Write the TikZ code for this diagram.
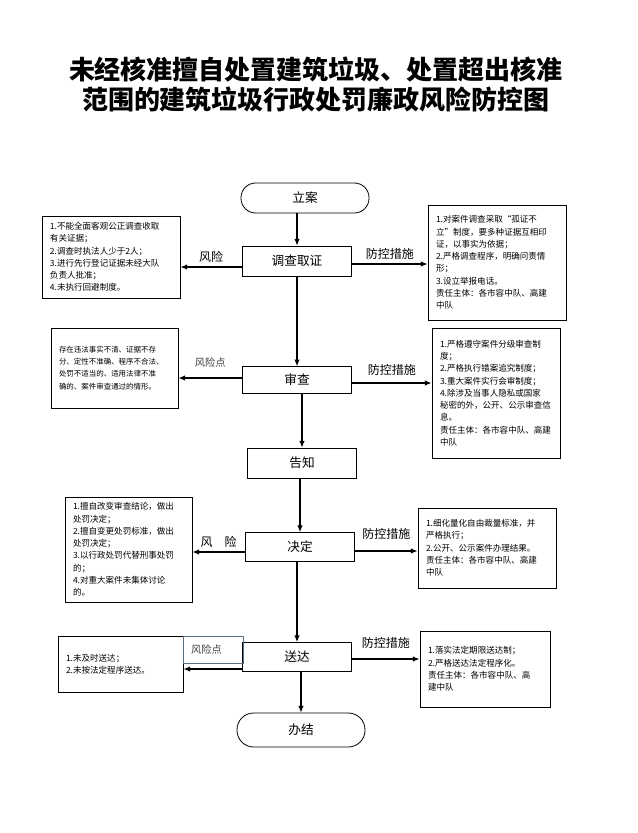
\documentclass[tikz,border=0pt]{standalone}
\usepackage{fontspec}
\setmainfont{Noto Sans CJK SC}
\usetikzlibrary{arrows.meta}
\definecolor{boxgray}{HTML}{5B7087}
\tikzset{
  >={Latex[length=5pt,width=4pt]},
  flowline/.style={->, line width=0.8pt},
  procbox/.style={draw, line width=0.6pt, minimum width=82pt, minimum height=22.5pt, font=\fontsize{9.5}{11}\selectfont},
  endbox/.style={procbox, rounded corners=11pt, minimum width=96pt},
  notebox/.style={draw, line width=0.6pt, align=left, inner xsep=6pt, inner ysep=1pt, font=\fontsize{6.4}{9.2}\selectfont},
  risklabel/.style={font=\fontsize{9}{10}\selectfont},
  pointlabel/.style={font=\fontsize{7.7}{9}\selectfont, text=black!75},
}
\begin{document}
\begin{tikzpicture}[x=0.75pt, y=-0.75pt]
                \useasboundingbox (0,0) rectangle (637,833);
                \node[align=center, font=\fontsize{19.5}{22.5}\selectfont\bfseries] (title) at (316,85) {未经核准擅自处置建筑垃圾、处置超出核准\\范围的建筑垃圾行政处罚廉政风险防控图};

                % main steps
                \node[endbox] (la) at (305,198) {立案};
                \node[procbox] (dczz) at (297,261) {调查取证};
                \node[procbox, minimum height=20pt] (sc) at (297,380) {审查};
                \node[procbox] (gz) at (302,463) {告知};
                \node[procbox, minimum height=21.75pt] (jd) at (300,547) {决定};
                \node[procbox, minimum height=21.75pt] (sd) at (297,657) {送达};
                \node[endbox, minimum height=25.5pt, rounded corners=12.5pt] (bj) at (301,730) {办结};

                % risks and measures
                \node[notebox, text width=91.5pt, minimum height=61.5pt] (fx1) at (111,257) {1.不能全面客观公正调查收取\\有关证据；\\2.调查时执法人少于2人；\\3.进行先行登记证据未经大队\\负责人批准；\\4.未执行回避制度。};
                \node[notebox, text width=91.5pt, minimum height=86.25pt] (fk1) at (497,262.5) {1.对案件调查采取“孤证不\\立”制度，要多种证据互相印\\证，以事实为依据；\\2.严格调查程序，明确问责情\\形；\\3.设立举报电话。\\责任主体：各市容中队、高建\\中队};
                \node[notebox, text width=83.25pt, minimum height=60pt, font=\fontsize{5.6}{9.2}\selectfont] (fx2) at (114.5,368) {存在违法事实不清、证据不存\\分、定性不准确、程序不合法、\\处罚不适当的、适用法律不准\\确的、案件审查通过的情形。};
                \node[notebox, text width=84pt, minimum height=97.5pt] (fk2) at (496,393) {1.严格遵守案件分级审查制\\度；\\2.严格执行错案追究制度；\\3.重大案件实行会审制度；\\4.除涉及当事人隐私或国家\\秘密的外，公开、公示审查信\\息。\\责任主体：各市容中队、高建\\中队};
                \node[notebox, text width=83.25pt, minimum height=78.75pt] (fx3) at (128.5,549.5) {1.擅自改变审查结论，做出\\处罚决定；\\2.擅自变更处罚标准，做出\\处罚决定；\\3.以行政处罚代替刑事处罚\\的；\\4.对重大案件未集体讨论\\的。};
                \node[notebox, text width=91.5pt, minimum height=60pt] (fk3) at (487,548) {1.细化量化自由裁量标准，并\\严格执行；\\2.公开、公示案件办理结果。\\责任主体：各市容中队、高建\\中队};
                \node[notebox, text width=81.75pt, minimum height=42pt] (fx4) at (120.5,664) {1.未及时送达；\\2.未按法定程序送达。};
                \node[notebox, text width=85.5pt, minimum height=57pt] (fk4) at (485,669) {1.落实法定期限送达制；\\2.严格送达法定程序化。\\责任主体：各市容中队、高\\建中队};
                \node[draw=boxgray, line width=0.5pt, minimum width=45pt, minimum height=20pt, text width=33pt, inner xsep=6pt, align=left, pointlabel] (fxd) at (213,649.5) {风险点};

                \draw[flowline] (la.south -| dczz.north) -- (dczz.north);
                \draw[flowline] (dczz.south) -- (sc.north);
                \draw[flowline] (sc.south -| gz.north) -- (gz.north);
                \draw[flowline] (gz.south -| jd.north) -- (jd.north);
                \draw[flowline] (jd.south -| sd.north) -- (sd.north);
                \draw[flowline] (sd.south -| bj.north) -- (bj.north);

                \draw[flowline] ([yshift=-4.5pt]dczz.west) to node[above, risklabel] {风险} ([yshift=-4.5pt]dczz.west -| fx1.east);
                \draw[flowline] ([yshift=-2.25pt]dczz.east) to node[above, risklabel] {防控措施} ([yshift=-2.25pt]dczz.east -| fk1.west);
                \draw[flowline] ([yshift=1.5pt]sc.west) to node[above=4pt, pointlabel] {风险点} ([yshift=1.5pt]sc.west -| fx2.east);
                \draw[flowline] ([yshift=-2.25pt]sc.east) to node[above=2pt, risklabel] {防控措施} ([yshift=-2.25pt]sc.east -| fk2.west);
                \draw[flowline] ([yshift=-3.75pt]jd.west) to node[above, risklabel] {风\quad 险} ([yshift=-3.75pt]jd.west -| fx3.east);
                \draw[flowline] ([yshift=-3pt]jd.east) to node[above=5pt, risklabel] {防控措施} ([yshift=-3pt]jd.east -| fk3.west);
                \draw[flowline] ([yshift=-9pt]sd.west) -- ([yshift=-9pt]sd.west -| fx4.east);
                \draw[flowline] ([yshift=-1.5pt]sd.east) to node[above=4pt, risklabel] {防控措施} ([yshift=-1.5pt]sd.east -| fk4.west);
            \end{tikzpicture}
\end{document}
